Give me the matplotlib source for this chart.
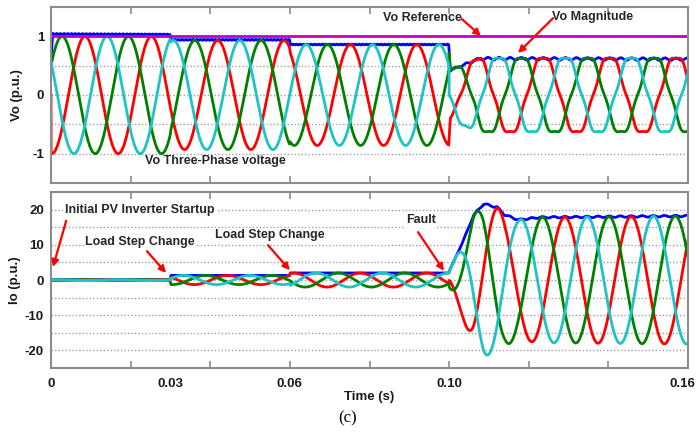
import matplotlib.pyplot as plt
import numpy as np
from matplotlib.transforms import ScaledTranslation

plt.rcParams['font.family'] = ['Liberation Sans', 'DejaVu Sans']
plt.rcParams['font.weight'] = 'bold'
plt.rcParams['axes.labelweight'] = 'bold'

f0 = 60.0
t_fault = 0.10

# ---- output voltage (p.u.) ----
# times of the first positive peak of red / green / cyan, before and after the fault
vo_peak_pre = [0.00854, 0.00277, 0.01409]
vo_peak_post = [0.1070, 0.1015, 0.1125]
vo_amp_t = [0.0, 0.0299, 0.0301, 0.0599, 0.0601, 0.0999, 0.1003, 0.102, 0.104, 0.106, 0.108, 0.16]
vo_amp = [1.00, 1.00, 0.93, 0.93, 0.86, 0.86, 0.42, 0.47, 0.52, 0.58, 0.62, 0.62]
vo_h5 = [0.0, -0.06]           # 5th harmonic share, pre / post fault
vo_start = [0.0, 0.5, 0.56]    # values just before startup
vo_mag_t = [0.0, 0.0004, 0.0299, 0.0301, 0.0599, 0.0601, 0.0999, 0.1003, 0.102, 0.104, 0.106, 0.108, 0.16]
vo_mag = [0.62, 1.04, 1.03, 0.94, 0.94, 0.86, 0.86, 0.42, 0.47, 0.52, 0.58, 0.62, 0.61]
vo_ripple = [0.008, 0.035]
vo_ref = 1.0

# ---- output current (p.u.) ----
io_peak_pre = [0.0610, 0.0555, 0.0666]
io_peak_post = [0.1124, 0.1068, 0.1180]
io_mag_t = [0.0, 0.0299, 0.0301, 0.0599, 0.0601, 0.0999, 0.1002, 0.1035, 0.1061, 0.1086,
            0.1120, 0.1140, 0.1174, 0.1228, 0.16]
io_mag = [0.1, 0.1, 1.3, 1.3, 2.0, 2.0, 3.0, 11.0, 18.3, 21.6, 20.7, 18.5, 17.1, 17.8, 18.2]
io_ripple = [0.0, 0.012]

phase_colors = ['#ff0000', '#008000', '#1ec3c3']
mag_color = '#0000ff'
ref_color = '#c000c0'

t = np.linspace(0, 0.16, 6401)
post = t >= t_fault


def phases(amp, peaks_pre, peaks_post, h5):
    waves = []
    for p0, p1 in zip(peaks_pre, peaks_post):
        th = np.where(post, 2 * np.pi * f0 * (t - p1), 2 * np.pi * f0 * (t - p0))
        h = np.where(post, h5[1], h5[0])
        w = (np.cos(th) + h * np.cos(5 * th)) / (1 + h)
        waves.append(amp * w)
    return waves


def magnitude(mag, ref_peak, ripple, nharm):
    r = np.where(post, ripple[1], ripple[0])
    n = np.where(post, 6, nharm)
    return mag * (1 + r * np.cos(n * 2 * np.pi * f0 * (t - ref_peak)))


vo_a = np.interp(t, vo_amp_t, vo_amp)
vo_waves = phases(vo_a, vo_peak_pre, vo_peak_post, vo_h5)
vo_m = magnitude(np.interp(t, vo_mag_t, vo_mag), vo_peak_post[0], vo_ripple, 18)

io_a = np.interp(t, io_mag_t, io_mag)
io_waves = phases(io_a, io_peak_pre, io_peak_post, [0.0, 0.0])
io_m = magnitude(io_a, io_peak_post[0], io_ripple, 6)

fig = plt.figure(figsize=(6.96, 4.32), dpi=100)
ax1 = fig.add_axes([0.0733, 0.5764, 0.9152, 0.4074])
ax2 = fig.add_axes([0.0733, 0.1481, 0.9152, 0.4074])

lw = 2.0
ax1.plot(t, vo_m, color=mag_color, lw=lw)
for w, c, s in zip(vo_waves, phase_colors, vo_start):
    ax1.plot(np.r_[0, t], np.r_[s, w], color=c, lw=lw)
ax1.axhline(vo_ref, color=ref_color, lw=lw)

ax2.plot(t, io_m, color=mag_color, lw=lw)
for w, c in zip(io_waves, phase_colors):
    ax2.plot(t, w, color=c, lw=lw)

ax1.set_ylim(-1.5, 1.5)
ax1.set_yticks([-1, -0.5, 0, 0.5, 1], labels=['-1', '', '0', '', '1'])
ax2.set_ylim(-25, 25)
ax2.set_yticks(np.arange(-20, 21, 5), labels=['-20', '', '-10', '', '0', '', '10', '', '20'])

for ax in (ax1, ax2):
    ax.set_xlim(0, 0.16)
    ax.xaxis.remove_overlapping_locs = False
    ax.set_xticks(np.arange(0, 0.161, 0.02), minor=True)
    ax.tick_params(which='minor', direction='in', top=True, bottom=True, length=5,
                   color='#8c8c8c', width=1.2)
    ax.tick_params(which='major', length=0, labelsize=9.5, pad=5, labelcolor='#1a1a1a')
    ax.grid(axis='y', ls=(0, (1, 1.5)), color='#a0a0a0', lw=1)
    ax.set_axisbelow(True)
    for sp in ax.spines.values():
        sp.set_color('#8c8c8c')
        sp.set_linewidth(1.5)

ax1.set_xticks([])
ax2.set_xticks([0, 0.03, 0.06, 0.10, 0.16], labels=['0', '0.03', '0.06', '0.10', '0.16'])
ax2.tick_params(axis='x', pad=7)
last = ax2.get_xticklabels()[-1]
last.set_transform(last.get_transform() + ScaledTranslation(-6 / 100, 0, fig.dpi_scale_trans))

ax1.set_ylabel('Vo (p.u.)', fontsize=9.5, color='#1a1a1a', labelpad=7)
ax2.set_ylabel('Io (p.u.)', fontsize=9.5, color='#1a1a1a', labelpad=3)
ax2.set_xlabel('Time (s)', fontsize=9.5, color='#1a1a1a', labelpad=1)
fig.text(0.5, 0.032, '(c)', fontsize=12, family='Liberation Serif', weight='normal',
         ha='center', va='center')

tc = '#262626'
fs = 9
arrow = dict(arrowstyle='-|>', color='red', lw=1.6, mutation_scale=10, shrinkA=0, shrinkB=0)
box = dict(facecolor='white', edgecolor='none', pad=1)

ax1.text(0.0932, 1.31, 'Vo Reference', fontsize=fs, color=tc, ha='center', va='center')
ax1.annotate('', xy=(0.1080, 1.006), xytext=(0.1032, 1.295), arrowprops=arrow)
ax1.text(0.1361, 1.33, 'Vo Magnitude', fontsize=fs, color=tc, ha='center', va='center')
ax1.annotate('', xy=(0.1173, 0.716), xytext=(0.1261, 1.31), arrowprops=arrow)
ax1.text(0.0412, -1.125, 'Vo Three-Phase voltage', fontsize=fs, color=tc, ha='center', va='center')

ax2.text(0.0224, 19.9, 'Initial PV Inverter Startup', fontsize=fs, color=tc,
         ha='center', va='center', bbox=box)
ax2.annotate('', xy=(0.0005, 3.7), xytext=(0.0038, 16.8), arrowprops=arrow)
ax2.text(0.0224, 10.8, 'Load Step Change', fontsize=fs, color=tc, ha='center', va='center', bbox=box)
ax2.annotate('', xy=(0.0289, 2.0), xytext=(0.0241, 8.2), arrowprops=arrow)
ax2.text(0.0550, 12.8, 'Load Step Change', fontsize=fs, color=tc, ha='center', va='center', bbox=box)
ax2.annotate('', xy=(0.0600, 2.8), xytext=(0.0545, 9.9), arrowprops=arrow)
ax2.text(0.0929, 17.0, 'Fault', fontsize=fs, color=tc, ha='center', va='center', bbox=box)
ax2.annotate('', xy=(0.0987, 2.6), xytext=(0.0922, 13.6), arrowprops=arrow)

fig.savefig('out.png', dpi=100)
